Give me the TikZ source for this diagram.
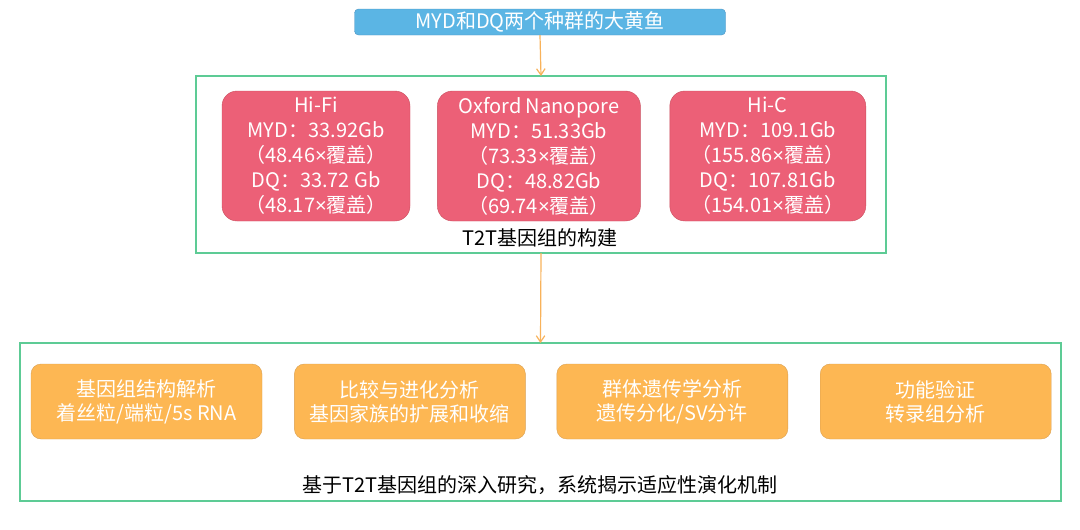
\documentclass[tikz,border=0pt]{standalone}
\usepackage{fontspec}
\setmainfont{Noto Sans CJK SC}
\newfontfamily\latinfont{Liberation Sans}
\usepackage{tikz}
\usetikzlibrary{arrows.meta,positioning}

\definecolor{topblue}{HTML}{5BB5E4}
\definecolor{topedge}{HTML}{4D94C2}
\definecolor{seqred}{HTML}{EC6077}
\definecolor{seqedge}{HTML}{C9505F}
\definecolor{taskorange}{HTML}{FDB753}
\definecolor{taskedge}{HTML}{D9A052}
\definecolor{framegreen}{HTML}{5DCB95}
\definecolor{arrorange}{HTML}{F8B25A}
\newcommand{\timesx}{{\latinfont ×}}

\begin{document}
\begin{tikzpicture}[x=1pt, y=-1pt,
      topbox/.style={draw=topedge, fill=topblue, rounded corners=4pt, text=white, minimum width=371pt, minimum height=26pt, inner sep=0pt, font=\fontsize{20}{24}\selectfont},
      frame/.style={draw=framegreen, line width=2pt, outer sep=0pt},
      seqbox/.style={draw=seqedge, fill=seqred, rounded corners=15pt, text=white, align=center, minimum height=130pt, inner sep=0pt, font=\fontsize{20}{25}\selectfont},
      taskbox/.style={draw=taskedge, fill=taskorange, rounded corners=10pt, text=white, align=center, minimum width=231pt, minimum height=75pt, inner sep=0pt, font=\fontsize{20}{24}\selectfont},
      caption/.style={text=black, inner sep=0pt, font=\fontsize{20}{24}\selectfont},
      arrow/.style={-{Straight Barb[length=2.2mm, width=3mm]}, draw=arrorange, line width=1.2pt}
    ]
    \useasboundingbox (0,0) rectangle (1080,530);
    \node[topbox] (fish) at (540,22) {MYD和DQ两个种群的大黄鱼};
    \node[frame, minimum width=690pt, minimum height=177pt] (build) at (541,164.5) {};
    \node[seqbox, minimum width=188pt] (hifi) at (316,156) {Hi-Fi\\MYD：33.92Gb\\（48.46\timesx 覆盖）\\DQ：33.72 Gb\\（48.17\timesx 覆盖）};
    \node[seqbox, minimum width=203pt, right=27pt of hifi] (ont) {Oxford Nanopore\\MYD：51.33Gb\\（73.33\timesx 覆盖）\\DQ：48.82Gb\\（69.74\timesx 覆盖）};
    \node[seqbox, minimum width=196pt, right=29pt of ont] (hic) {Hi-C\\MYD：109.1Gb\\（155.86\timesx 覆盖）\\DQ：107.81Gb\\（154.01\timesx 覆盖）};
    \node[caption] (buildtxt) at (540,238) {T2T基因组的构建};
    \node[frame, minimum width=1041pt, minimum height=158pt] (study) at (540.5,422) {};
    \node[taskbox] (struct) at (146.5,401.5) {基因组结构解析\\着丝粒/端粒/5s RNA};
    \node[taskbox, right=32pt of struct] (evol) {比较与进化分析\\基因家族的扩展和收缩};
    \node[taskbox, right=31pt of evol] (popgen) {群体遗传学分析\\遗传分化/SV分许};
    \node[taskbox, right=32pt of popgen] (func) {功能验证\\转录组分析};
    \node[caption] (studytxt) at (540,485) {基于T2T基因组的深入研究，系统揭示适应性演化机制};
    \draw[arrow] (fish.south) -- (build.north);
    \draw[arrow] (build.south) -- (study.north);
  \end{tikzpicture}
\end{document}
